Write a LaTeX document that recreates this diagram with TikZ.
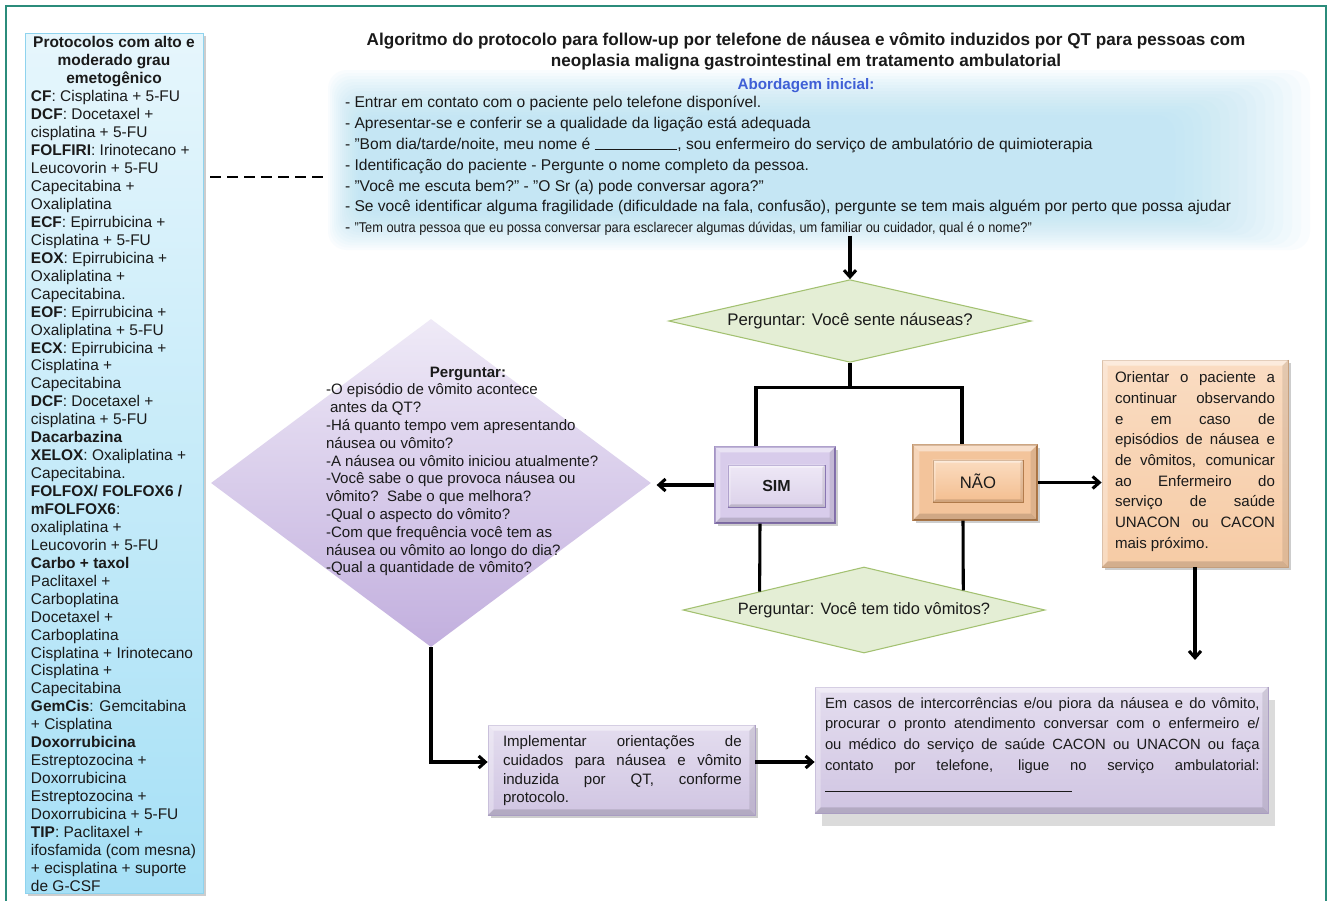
\documentclass[tikz,border=0pt]{standalone}
\usepackage{fontspec}
\setmainfont{Liberation Sans}
\usepackage{graphicx}
\usetikzlibrary{shapes.geometric,arrows.meta,calc,shadows}
\definecolor{ink}{HTML}{1A1A1A}
\definecolor{frameC}{HTML}{2B8C7B}
\definecolor{panelT}{HTML}{E6F6FC}
\definecolor{panelB}{HTML}{A6E0F6}
\definecolor{panelE}{HTML}{8FD3EE}
\definecolor{blobC}{HTML}{AEDFF4}
\definecolor{abordC}{HTML}{3F5FD6}
\definecolor{grnF}{HTML}{E4EED5}
\definecolor{grnB}{HTML}{A3C171}
\definecolor{purT}{HTML}{EFEAF7}
\definecolor{purB}{HTML}{C2AFDE}
\definecolor{lavF}{HTML}{D8CCEB}
\definecolor{lavB}{HTML}{8E7AB8}
\definecolor{lavT}{HTML}{EEE8F6}
\definecolor{lavM}{HTML}{DCD2EA}
\definecolor{boxT}{HTML}{E4DDEF}
\definecolor{boxB}{HTML}{D0C5E2}
\definecolor{boxE}{HTML}{B3A6CC}
\definecolor{orF}{HTML}{F3C49B}
\definecolor{orB}{HTML}{B9814F}
\definecolor{orT}{HTML}{FBDCC0}
\definecolor{orM}{HTML}{F3BE90}
\definecolor{orBoxT}{HTML}{FADCC2}
\definecolor{orBoxB}{HTML}{F6CBA5}
\newcommand{\fs}[2]{\fontsize{#1}{#2}\selectfont}
\newcommand{\mybevel}[2]{%
  \fill[white,opacity=0.45] (#1.north west) -- (#1.north east) -- ($(#1.north east)+(-#2,#2)$) -- ($(#1.north west)+(#2,#2)$) -- cycle;
  \fill[white,opacity=0.3] (#1.north west) -- ($(#1.north west)+(#2,#2)$) -- ($(#1.south west)+(#2,-#2)$) -- (#1.south west) -- cycle;
  \fill[black,opacity=0.14] (#1.south west) -- ($(#1.south west)+(#2,-#2)$) -- ($(#1.south east)+(-#2,-#2)$) -- (#1.south east) -- cycle;
  \fill[black,opacity=0.09] (#1.north east) -- (#1.south east) -- ($(#1.south east)+(-#2,-#2)$) -- ($(#1.north east)+(-#2,#2)$) -- cycle;
}
\tikzset{
  txt/.style={inner sep=0pt, outer sep=0pt, text=ink},
  conn/.style={line width=2.3pt, draw=black},
  arr/.style={conn, -{Straight Barb[length=5pt,width=9pt]}},
  dashline/.style={line width=1.6pt, draw=black, dash pattern=on 8.2pt off 4.6pt},
  gdia/.style={diamond, aspect=4.3, draw=grnB, fill=grnF, line width=0.8pt, inner sep=0pt, text=ink},
  shd/.style={drop shadow={shadow xshift=2.5pt, shadow yshift=-2.5pt, opacity=0.28, fill=black!70}},
  bigshd/.style={drop shadow={shadow xshift=5pt, shadow yshift=-10pt, opacity=0.2, fill=black!70}},
  panelbox/.style={rectangle, minimum width=133.5pt, minimum height=645pt, inner sep=0pt, top color=panelT, bottom color=panelB, draw=panelE, line width=0.6pt},
  lavbox/.style={rectangle, inner sep=0pt, top color=boxT, bottom color=boxB, draw=boxE, line width=0.6pt},
  orbox/.style={rectangle, inner sep=0pt, top color=orBoxT, bottom color=orBoxB, draw=orB!70, line width=0.6pt},
  simbox/.style={rectangle, inner sep=0pt, minimum width=90pt, minimum height=57pt, fill=lavF, draw=lavB, line width=0.8pt},
  siminner/.style={rectangle, inner sep=0pt, minimum width=72.75pt, minimum height=31.5pt, top color=lavT, bottom color=lavM, draw=lavB, line width=0.5pt, text=ink},
  naobox/.style={rectangle, inner sep=0pt, minimum width=93pt, minimum height=56.25pt, fill=orF, draw=orB, line width=0.8pt},
  naoinner/.style={rectangle, inner sep=0pt, minimum width=67.5pt, minimum height=31.5pt, top color=orT, bottom color=orM, draw=orB, line width=0.5pt, text=ink},
}
\begin{document}
\begin{tikzpicture}[x=0.75pt,y=-0.75pt]
\useasboundingbox (0,0) rectangle (1332,900);
\fill[white] (0,0) rectangle (1332,900);
% soft blue background of the initial block
\foreach \i in {0,...,15}{
  \fill[blobC,opacity=0.062,rounded corners=14pt] ({328+\i*2},{70+\i*3}) rectangle ({1310-\i*9},{250-\i*2.5});
}
% frame
\draw[frameC, line width=1.6pt] (6,902) -- (6,6) -- (1326,6) -- (1326,902);

% left panel
\node[panelbox, shd] (panel) at (114,463) {};
\node[txt, anchor=north, align=center, font=\fs{11.6pt}{13.455pt}\bfseries] (ptitle) at (114,35.4)
  {\strut Protocolos com alto e\\moderado grau\\emetogênico};
\node[txt, anchor=north west, align=left, font=\fs{11.6pt}{13.455pt}] (plist) at (31,89.3)
  {\strut\textbf{CF}: Cisplatina + 5-FU\\
  \textbf{DCF}: Docetaxel +\\
  cisplatina + 5-FU\\
  \textbf{FOLFIRI}: Irinotecano +\\
  Leucovorin + 5-FU\\
  Capecitabina +\\
  Oxaliplatina\\
  \textbf{ECF}: Epirrubicina +\\
  Cisplatina + 5-FU\\
  \textbf{EOX}: Epirrubicina +\\
  Oxaliplatina +\\
  Capecitabina.\\
  \textbf{EOF}: Epirrubicina +\\
  Oxaliplatina + 5-FU\\
  \textbf{ECX}: Epirrubicina +\\
  Cisplatina +\\
  Capecitabina\\
  \textbf{DCF}: Docetaxel +\\
  cisplatina + 5-FU\\
  \textbf{Dacarbazina}\\
  \textbf{XELOX}: Oxaliplatina +\\
  Capecitabina.\\
  \textbf{FOLFOX/ FOLFOX6 /}\\
  \textbf{mFOLFOX6}:\\
  oxaliplatina +\\
  Leucovorin + 5-FU\\
  \textbf{Carbo + taxol}\\
  Paclitaxel +\\
  Carboplatina\\
  Docetaxel +\\
  Carboplatina\\
  Cisplatina + Irinotecano\\
  Cisplatina +\\
  Capecitabina\\
  \textbf{GemCis}: Gemcitabina\\
  + Cisplatina\\
  \textbf{Doxorrubicina}\\
  Estreptozocina +\\
  Doxorrubicina\\
  Estreptozocina +\\
  Doxorrubicina + 5-FU\\
  \textbf{TIP}: Paclitaxel +\\
  ifosfamida (com mesna)\\
  + ecisplatina + suporte\\
  de G-CSF};

% title
\node[txt, anchor=north, align=center, font=\fs{12.85pt}{15.75pt}\bfseries] (title) at (806,30.4)
  {\strut Algoritmo do protocolo para follow-up por telefone de náusea e vômito induzidos por QT para pessoas com\\
   neoplasia maligna gastrointestinal em tratamento ambulatorial};
\node[txt, anchor=base, font=\fs{11.4pt}{14pt}\bfseries, text=abordC] (abord) at (806,89) {Abordagem inicial:};

% initial approach text
\node[txt, anchor=north west, align=left, font=\fs{11.7pt}{15.6pt}] (init) at (345,93.4)
  {\strut - Entrar em contato com o paciente pelo telefone disponível.\\
  - Apresentar-se e conferir se a qualidade da ligação está adequada\\
  - "Bom dia/tarde/noite, meu nome é \rule[-0.5pt]{62pt}{0.6pt}, sou enfermeiro do serviço de ambulatório de quimioterapia\\
  - Identificação do paciente - Pergunte o nome completo da pessoa.\\
  - "Você me escuta bem?" - "O Sr (a) pode conversar agora?"\\
  - Se você identificar alguma fragilidade (dificuldade na fala, confusão), pergunte se tem mais alguém por perto que possa ajudar\\
  - \resizebox{508pt}{\height}{\fs{10.6pt}{12pt}"Tem outra pessoa que eu possa conversar para esclarecer algumas dúvidas, um familiar ou cuidador, qual é o nome?"}};

% dashed link
\coordinate (dashL) at (210,177);
\coordinate (dashR) at (328,177);
\draw[dashline] (dashL) -- (dashR);

% diamonds
\node[gdia, minimum width=272pt, minimum height=62pt, font=\fs{12.6pt}{15pt}] (d1) at (850,321) {Perguntar: Você sente náuseas?};
\node[gdia, minimum width=271.5pt, minimum height=64.5pt, font=\fs{12.3pt}{15pt}] (d3) at (864,610) {Perguntar: Você tem tido vômitos?};
\node[diamond, minimum width=330pt, minimum height=246pt, inner sep=0pt, top color=purT, bottom color=purB, draw=none] (d2) at (431,483) {};
\node[txt, anchor=base, font=\fs{11.3pt}{13.35pt}\bfseries] (d2h) at (468,377) {Perguntar:};
\node[txt, anchor=north west, align=left, font=\fs{11.3pt}{13.35pt}] (d2t) at (326,382.5)
  {\strut -O episódio de vômito acontece\\
  \hspace*{3pt}antes da QT?\\
  -Há quanto tempo vem apresentando\\
  náusea ou vômito?\\
  -A náusea ou vômito iniciou atualmente?\\
  -Você sabe o que provoca náusea ou\\
  vômito?\ \ Sabe o que melhora?\\
  -Qual o aspecto do vômito?\\
  -Com que frequência você tem as\\
  náusea ou vômito ao longo do dia?\\
  -Qual a quantidade de vômito?};

% SIM / NAO
\node[simbox, shd] (sim) at (775,485) {};
\mybevel{sim}{6}
\node[siminner, font=\fs{12pt}{14pt}\bfseries] (simin) at (776.5,486) {SIM};
\mybevel{simin}{3}
\node[naobox, shd] (nao) at (975,482.5) {};
\mybevel{nao}{7}
\node[naoinner, font=\fs{12.5pt}{14pt}] (naoin) at (978,481) {NÃO};
\mybevel{naoin}{3}

% orange box
\node[orbox, shd, minimum width=139.5pt, minimum height=155.25pt] (orange) at (1195,463.5) {};
\mybevel{orange}{6}
\node[txt, anchor=north west, text width=120pt, align=justify, font=\fs{11.3pt}{15.5pt}] (ortext) at (1115,368.5)
  {\noindent\strut Orientar o paciente a\linebreak continuar observando\linebreak e em caso de\linebreak episódios de náusea e\linebreak de vômitos, comunicar\linebreak ao Enfermeiro do\linebreak serviço de saúde\linebreak UNACON ou CACON\linebreak mais próximo.};

% implement box
\node[lavbox, shd, minimum width=200.25pt, minimum height=67.5pt] (impl) at (621.5,770) {};
\mybevel{impl}{6}
\node[txt, anchor=north west, text width=179pt, align=justify, font=\fs{11.3pt}{14pt}] (impltext) at (503,733.9)
  {\noindent\strut Implementar orientações de\linebreak cuidados para náusea e vômito\linebreak induzida por QT, conforme\linebreak protocolo.};

% big box
\node[lavbox, bigshd, minimum width=339.75pt, minimum height=94.5pt] (big) at (1041.5,750) {};
\mybevel{big}{6}
\node[txt, anchor=north west, text width=326pt, align=justify, font=\fs{11.1pt}{15.7pt}] (bigtext) at (825,693.4)
  {\noindent\strut Em casos de intercorrências e/ou piora da náusea e do vômito,\linebreak procurar o pronto atendimento conversar com o enfermeiro e/\linebreak ou médico do serviço de saúde CACON ou UNACON ou faça\linebreak contato por telefone, ligue no serviço ambulatorial:\linebreak \rule{185pt}{0.8pt}};

% connectors
\draw[arr] (init.south -| d1.north) -- (d1.north);
\coordinate (split) at ($(d1.south)+(0,25)$);
\draw[conn] (d1.south) -- (split);
\draw[conn] ($(sim.north)+(-19,0)$) |- (split) -| ($(nao.north)+(-13,0)$);
\draw[arr, shorten >=4pt] (sim.west) -- (sim.west -| d2.east);
\draw[conn] ($(sim.south)+(-15,0)$) -- ($(d3.west)!0.425!(d3.north)$);
\draw[conn] ($(nao.south)+(-12,0)$) -- ($(d3.north)!0.547!(d3.east)$);
\draw[arr] (nao.east) -- (nao.east -| orange.west);
\draw[arr, shorten >=20pt] (orange.south) -- (orange.south |- big.north);
\draw[arr] (d2.south) |- ($(impl.west)+(0,-8)$);
\coordinate (ie) at ($(impl.east)+(0,-8)$);
\draw[arr] (ie) -- (ie -| big.west);
\end{tikzpicture}
\end{document}
